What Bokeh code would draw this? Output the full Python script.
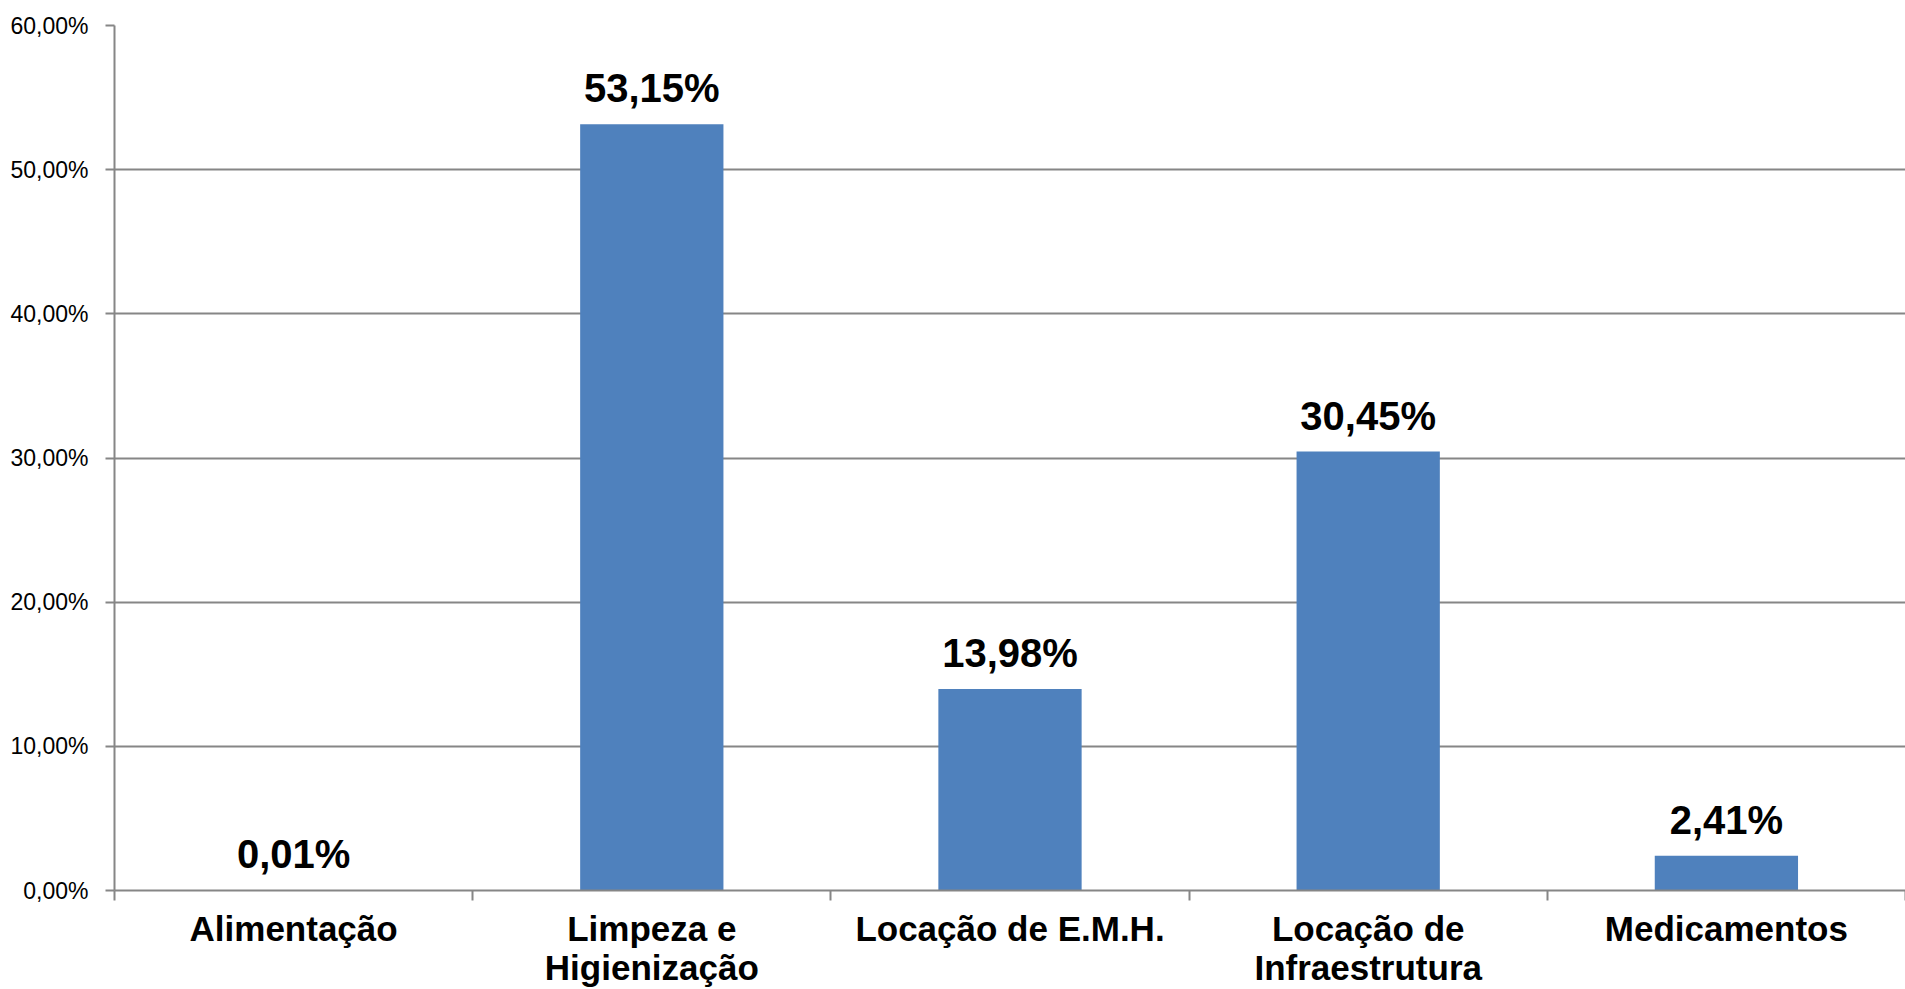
from bokeh.plotting import figure
from bokeh.models import Range1d, FixedTicker, ColumnDataSource
from bokeh.core.properties import value
from bokeh.embed import file_html
from bokeh.resources import INLINE

categories = ["Alimentação", "Limpeza e\nHigienização", "Locação de E.M.H.",
              "Locação de\nInfraestrutura", "Medicamentos"]
values = [0.01, 53.15, 13.98, 30.45, 2.41]
value_labels = ["0,01%", "53,15%", "13,98%", "30,45%", "2,41%"]
y_ticks = [0, 10, 20, 30, 40, 50, 60]
y_tick_labels = ["0,00%", "10,00%", "20,00%", "30,00%", "40,00%", "50,00%", "60,00%"]

n = len(categories)
centers = [i + 0.5 for i in range(n)]
bounds = [i for i in range(n + 1)]

src = ColumnDataSource(dict(x=centers, top=values, lab=value_labels))

p = figure(width=1905, height=989, output_backend="svg", toolbar_location=None,
           x_range=Range1d(0, n), y_range=Range1d(0, 60),
           min_border_left=114, min_border_right=0, min_border_top=25, min_border_bottom=90)
p.outline_line_color = None
p.background_fill_color = "white"
p.border_fill_color = "white"

p.vbar(x="x", top="top", bottom=0, width=0.4, source=src,
       fill_color="#4F81BD", line_color=None)

p.text(x="x", y="top", text="lab", source=src, y_offset=-36,
       text_align="center", text_baseline="alphabetic",
       text_font=value("Liberation Sans"), text_font_style="bold",
       text_font_size="40px", text_color="black")

grey = "#868686"

# y axis
ya = p.yaxis[0]
ya.ticker = FixedTicker(ticks=y_ticks)
ya.major_label_overrides = {t: l for t, l in zip(y_ticks, y_tick_labels)}
ya.axis_line_color = grey
ya.axis_line_width = 2
ya.major_tick_line_color = grey
ya.major_tick_line_width = 2
ya.major_tick_out = 9
ya.major_tick_in = 0
ya.minor_tick_line_color = None
ya.major_label_standoff = 17
ya.major_label_text_font = "Liberation Sans"
ya.major_label_text_font_size = "23px"
ya.major_label_text_color = "black"

# x axis
xa = p.xaxis[0]
xa.ticker = FixedTicker(ticks=centers, minor_ticks=bounds)
xa.major_label_overrides = {c: l for c, l in zip(centers, categories)}
xa.axis_line_color = grey
xa.axis_line_width = 2
xa.major_tick_line_color = None
xa.major_tick_out = 0
xa.major_tick_in = 0
xa.minor_tick_line_color = grey
xa.minor_tick_line_width = 2
xa.minor_tick_out = 10
xa.minor_tick_in = 0
xa.major_label_standoff = 8
xa.major_label_text_font = "Liberation Sans"
xa.major_label_text_font_style = "bold"
xa.major_label_text_font_size = "35px"
xa.major_label_text_color = "black"
xa.major_label_text_line_height = 1.0

p.xgrid.grid_line_color = None
p.ygrid.grid_line_color = grey
p.ygrid.grid_line_width = 2
p.ygrid.ticker = FixedTicker(ticks=y_ticks)

open("out.html", "w").write(file_html(p, INLINE))
